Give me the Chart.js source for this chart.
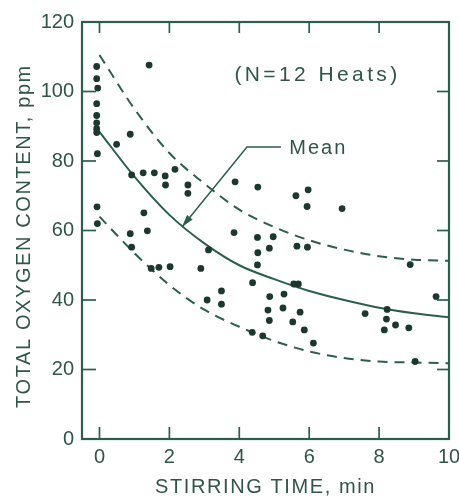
<!DOCTYPE html>
<html>
<head>
<meta charset="utf-8">
<script src="https://cdn.jsdelivr.net/npm/chart.js@4.4.1/dist/chart.umd.min.js"></script>
<style>
  html, body { margin: 0; padding: 0; background: #fff; }
</style>
</head>
<body>
<canvas id="chart" width="459" height="497"></canvas>
<script>
// Measured heats: stirring time (min) and total oxygen (ppm).
const pointTimes = [
  -0.08, -0.08, -0.05, -0.08, -0.08, -0.08, -0.08, -0.08, -0.06, -0.07, -0.06,
  0.49, 0.88, 1.42, 0.92, 1.25, 1.57, 1.88, 2.16, 1.89, 2.53, 2.53,
  1.27, 0.88, 1.37, 0.92, 1.48, 1.70, 2.02, 2.90,
  3.08, 3.49, 3.49, 3.12,
  3.88, 4.53, 5.62, 5.97, 5.94, 6.94,
  3.85, 4.52, 4.97, 4.86, 4.53, 5.65, 5.95, 4.52,
  4.38, 5.56, 5.69, 4.87, 5.28, 4.82, 5.25, 5.74, 4.86, 5.53, 5.86, 4.37, 4.67, 6.12,
  7.60, 8.23, 8.21, 8.15, 8.47, 8.85, 8.89, 9.63, 9.03
];
const pointOxygen = [
  107.2, 103.7, 101.0, 96.5, 93.1, 91.0, 89.3, 88.2, 82.1, 66.8, 62.0,
  84.8, 87.7, 107.6, 76.0, 76.6, 76.6, 75.7, 77.6, 73.1, 73.1, 70.7,
  65.1, 59.1, 59.9, 55.2, 49.1, 49.4, 49.6, 49.1,
  40.0, 42.6, 38.8, 54.4,
  74.0, 72.5, 70.0, 71.7, 66.9, 66.3,
  59.4, 58.0, 58.2, 54.9, 53.6, 55.5, 55.2, 50.1,
  45.0, 44.6, 44.6, 41.0, 41.7, 37.1, 37.7, 36.5, 34.1, 33.7, 31.4, 30.7, 29.7, 27.6,
  36.1, 37.3, 34.5, 31.4, 32.8, 32.0, 50.2, 41.0, 22.3
];

// Curves at whole minutes.
const curveTimes = [0, 1, 2, 3, 4, 5, 6, 7, 8, 9, 10];
const meanOxygen = [88.4, 75.5, 64.5, 56.3, 50.0, 46.0, 42.6, 40.0, 37.8, 36.2, 35.0];
const upperOxygen = [110.5, 95.0, 82.3, 73.5, 66.0, 61.0, 57.2, 54.5, 52.6, 51.6, 51.3];
const lowerOxygen = [64.0, 53.5, 44.3, 37.2, 32.3, 28.2, 25.2, 23.3, 22.3, 22.0, 21.8];

const xTickValues = [0, 2, 4, 6, 8, 10];
const yTickValues = [0, 20, 40, 60, 80, 100, 120];

const ink = '#2a5e4d';
const textInk = '#31544a';
const dotInk = '#1b372e';
const fontFamily = '"Liberation Sans", Arial, sans-serif';

const toXY = (xs, ys) => xs.map((v, i) => ({x: v, y: ys[i]}));

// Frame, inward ticks, axis titles and the annotations.
const framePlugin = {
  id: 'frame',
  afterDraw(chart) {
    const {ctx, chartArea: a, scales: {x, y}} = chart;
    const seg = (x1, y1, x2, y2) => {
      ctx.beginPath();
      ctx.moveTo(x1, y1);
      ctx.lineTo(x2, y2);
      ctx.stroke();
    };
    ctx.save();
    ctx.strokeStyle = ink;
    ctx.lineWidth = 2.2;
    ctx.strokeRect(a.left, a.top, a.right - a.left, a.bottom - a.top);

    ctx.lineWidth = 1.7;
    xTickValues.forEach((v) => {
      const px = x.getPixelForValue(v);
      seg(px, a.bottom, px, a.bottom - 12);
      seg(px, a.top, px, a.top + 11);
    });
    yTickValues.forEach((v) => {
      const py = y.getPixelForValue(v);
      seg(a.left, py, a.left + 14, py);
      seg(a.right, py, a.right - 12, py);
    });

    ctx.fillStyle = textInk;
    ctx.letterSpacing = '1.6px';
    ctx.font = '20px ' + fontFamily;
    ctx.textAlign = 'center';
    ctx.textBaseline = 'middle';
    ctx.fillText('STIRRING TIME, min', (a.left + a.right) / 2, 487);

    ctx.save();
    ctx.translate(24, 236);
    ctx.rotate(-Math.PI / 2);
    ctx.fillText('TOTAL OXYGEN CONTENT, ppm', 0, 0);
    ctx.restore();

    ctx.textAlign = 'left';
    ctx.letterSpacing = '3.4px';
    ctx.font = '21px ' + fontFamily;
    ctx.fillText('(N=12 Heats)', x.getPixelForValue(3.86), y.getPixelForValue(104.7));

    ctx.letterSpacing = '2px';
    ctx.font = '20px ' + fontFamily;
    ctx.fillText('Mean', x.getPixelForValue(5.43), y.getPixelForValue(83.5));

    // Leader from the label to the mean curve.
    const p0 = {x: x.getPixelForValue(5.19), y: y.getPixelForValue(84)};
    const p1 = {x: x.getPixelForValue(4.22), y: y.getPixelForValue(84)};
    const tip = {x: x.getPixelForValue(2.36), y: y.getPixelForValue(61)};
    ctx.lineWidth = 1.5;
    ctx.beginPath();
    ctx.moveTo(p0.x, p0.y);
    ctx.lineTo(p1.x, p1.y);
    ctx.lineTo(tip.x, tip.y);
    ctx.stroke();
    const ang = Math.atan2(tip.y - p1.y, tip.x - p1.x);
    const len = 13;
    const wing = 0.28;
    ctx.fillStyle = ink;
    ctx.beginPath();
    ctx.moveTo(tip.x, tip.y);
    ctx.lineTo(tip.x - len * Math.cos(ang - wing), tip.y - len * Math.sin(ang - wing));
    ctx.lineTo(tip.x - len * Math.cos(ang + wing), tip.y - len * Math.sin(ang + wing));
    ctx.closePath();
    ctx.fill();
    ctx.restore();
  }
};

const curveStyle = {
  showLine: true,
  pointRadius: 0,
  borderColor: ink,
  borderWidth: 2,
  cubicInterpolationMode: 'monotone',
  fill: false
};

new Chart(document.getElementById('chart'), {
  type: 'scatter',
  data: {
    datasets: [
      {
        label: 'Heats',
        data: toXY(pointTimes, pointOxygen),
        pointRadius: 3.4,
        pointBorderWidth: 0,
        backgroundColor: dotInk
      },
      {label: 'Mean', data: toXY(curveTimes, meanOxygen), ...curveStyle},
      {label: 'Upper', data: toXY(curveTimes, upperOxygen), ...curveStyle, borderDash: [10, 7]},
      {label: 'Lower', data: toXY(curveTimes, lowerOxygen), ...curveStyle, borderDash: [10, 7]}
    ]
  },
  options: {
    responsive: false,
    animation: false,
    layout: {padding: {top: 22, right: 10, left: 0, bottom: 0}},
    plugins: {legend: {display: false}, tooltip: {enabled: false}},
    scales: {
      x: {
        type: 'linear',
        min: -0.5,
        max: 10,
        grid: {display: false, drawTicks: false},
        border: {display: false},
        afterBuildTicks: (s) => { s.ticks = xTickValues.map((v) => ({value: v})); },
        afterFit: (s) => { s.height = 58; s.paddingLeft = 0; s.paddingRight = 0; },
        ticks: {
          color: textInk,
          font: {family: fontFamily, size: 20},
          padding: 6,
          maxRotation: 0
        }
      },
      y: {
        min: 0,
        max: 120,
        grid: {display: false, drawTicks: false},
        border: {display: false},
        afterBuildTicks: (s) => { s.ticks = yTickValues.map((v) => ({value: v})); },
        afterFit: (s) => { s.width = 82; s.paddingTop = 0; s.paddingBottom = 0; },
        ticks: {
          color: textInk,
          font: {family: fontFamily, size: 20},
          padding: 8
        }
      }
    }
  },
  plugins: [framePlugin]
});
</script>
</body>
</html>
